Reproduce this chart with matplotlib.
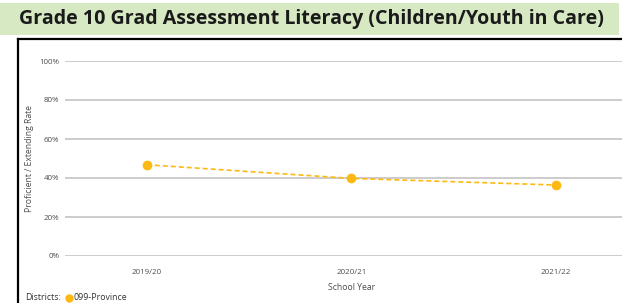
import matplotlib
matplotlib.use("Agg")
import matplotlib.pyplot as plt
from matplotlib.patches import Rectangle
from matplotlib.lines import Line2D

# === DATA ===
years = ["2019/20", "2020/21", "2021/22"]
province_rate = [46.8, 39.8, 36.4]
y_ticks = [0, 20, 40, 60, 80, 100]
y_tick_labels = ["0%", "20%", "40%", "60%", "80%", "100%"]

TITLE = "Grade 10 Grad Assessment Literacy (Children/Youth in Care)"
LINE_COLOR = "#FDB913"
GRID_COLOR = "#cccccc"
TEXT_COLOR = "#4d4d4d"

W, H = 622, 303
fig = plt.figure(figsize=(W / 100, H / 100), dpi=100)
fig.patch.set_facecolor("white")

# green title band
fig.patches.append(Rectangle((0 / W, 1 - 35 / H), 619 / W, 32 / H,
                             transform=fig.transFigure, facecolor="#d6e9c3",
                             edgecolor="none", zorder=0))
fig.text(311 / W, 1 - 19 / H, TITLE, ha="center", va="center",
         fontsize=14.1, fontweight="bold", color="#1a1a1a", family="Open Sans")

# black frame around the visual
fig.add_artist(Line2D([17.5 / W, 17.5 / W], [0, 1 - 39 / H], transform=fig.transFigure,
                      color="black", lw=1.6))
fig.add_artist(Line2D([17.5 / W, 1], [1 - 39 / H, 1 - 39 / H], transform=fig.transFigure,
                      color="black", lw=1.6))

# axes: plot area from x=65 px, y 0%..100% at 256..61 px
left, bottom = 65, H - 256
x_unit = 204.5
ax_w = 2.8 * x_unit
ax_h = 256 - 61
ax = fig.add_axes([left / W, bottom / H, ax_w / W, ax_h / H])
ax.set_xlim(-0.4, 2.4)
ax.set_ylim(0, 100)
ax.set_facecolor("none")
for s in ax.spines.values():
    s.set_visible(False)

for v in y_ticks:
    ax.axhline(v, color=GRID_COLOR, lw=1.4, zorder=1)

x = list(range(len(years)))
ax.plot(x, province_rate, color=LINE_COLOR, lw=1.2, ls=(0, (3, 1.8)), zorder=3)
ax.plot(x, province_rate, "o", color=LINE_COLOR, ms=6, zorder=4)

ax.set_yticks(y_ticks)
ax.set_yticklabels(y_tick_labels)
ax.set_xticks(x)
ax.set_xticklabels(years)
ax.tick_params(length=0, labelsize=5.7, labelcolor=TEXT_COLOR, pad=9)
for lab in ax.get_xticklabels() + ax.get_yticklabels():
    lab.set_family("Open Sans")
ax.tick_params(axis="y", pad=4)

fig.text(351.7 / W, 1 - 287 / H, "School Year", ha="center", va="center",
         fontsize=6.2, color=TEXT_COLOR, family="Open Sans")
fig.text(30 / W, 1 - 158 / H, "Proficient / Extending Rate", ha="center", va="center",
         rotation=90, fontsize=6.2, color=TEXT_COLOR, family="Open Sans")

# legend along the bottom edge
leg_y = 1 - 297.5 / H
fig.text(25 / W, leg_y, "Districts:", ha="left", va="center",
         fontsize=6.3, color="#333333", family="Open Sans")
fig.add_artist(Line2D([69 / W], [leg_y], marker="o", color=LINE_COLOR,
                      ms=5, transform=fig.transFigure))
fig.text(74 / W, leg_y, "099-Province", ha="left", va="center",
         fontsize=6.3, color="#333333", family="Open Sans")

fig.savefig("out.png", dpi=100)
